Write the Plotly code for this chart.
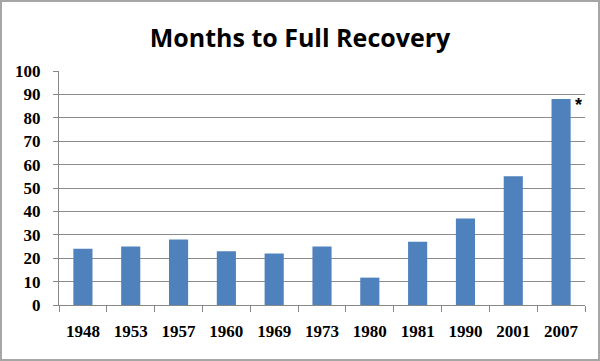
import plotly.graph_objects as go

years = ["1948", "1953", "1957", "1960", "1969", "1973", "1980", "1981", "1990", "2001", "2007"]
months = [24, 25, 28, 23, 22, 25, 11.7, 27, 37, 55, 88]
y_ticks = [0, 10, 20, 30, 40, 50, 60, 70, 80, 90, 100]

W, H = 600, 361
ml, mr, mt, mb = 59, 15, 71, 56
pw, ph = W - ml - mr, H - mt - mb

fig = go.Figure(go.Bar(x=years, y=months, marker=dict(color="#4f81bd", line=dict(width=0))))

tickfont = dict(family="Liberation Serif, DejaVu Serif, serif", size=17, color="#000000", weight="bold")

fig.update_layout(
    width=W, height=H,
    margin=dict(l=ml, r=mr, t=mt, b=mb),
    paper_bgcolor="white", plot_bgcolor="white",
    showlegend=False,
    title=dict(text="Months to Full Recovery", x=0.5, xanchor="center", y=1 - 38 / H, yanchor="middle",
               font=dict(family="Open Sans, Liberation Sans, sans-serif", size=25, color="#000000", weight="bold")),
    xaxis=dict(type="category", categoryorder="array", categoryarray=years, range=[-0.5, len(years) - 0.5],
               showgrid=False, showline=True, linecolor="#888888", linewidth=1,
               ticks="outside", tickson="boundaries", ticklen=6, tickcolor="#888888",
               tickfont=tickfont, tickangle=0, ticklabelstandoff=11),
    yaxis=dict(range=[0, 100], tickvals=y_ticks, showgrid=True, gridcolor="#8c8c8c", gridwidth=1,
               showline=True, linecolor="#888888", ticks="outside", ticklen=5, tickcolor="#888888",
               tickfont=tickfont, zeroline=False, ticklabelstandoff=9),
    bargap=0.6,
    shapes=[dict(type="rect", xref="paper", yref="paper",
                 x0=(1 - ml) / pw, x1=(W - 1 - ml) / pw,
                 y0=-(mb - 1) / ph, y1=1 + (mt - 1) / ph,
                 line=dict(color="#a6a6a6", width=2))],
    annotations=[dict(xref="x", yref="y", x=len(years) - 1, y=months[-1], text="*", showarrow=False,
                      xshift=17, yshift=-6,
                      font=dict(family="Liberation Sans, sans-serif", size=18, color="#000000", weight="bold"))],
)

fig.write_html("out.html", config={"displayModeBar": False},
               post_script="document.body.style.margin='0';document.body.style.overflow='hidden';")
